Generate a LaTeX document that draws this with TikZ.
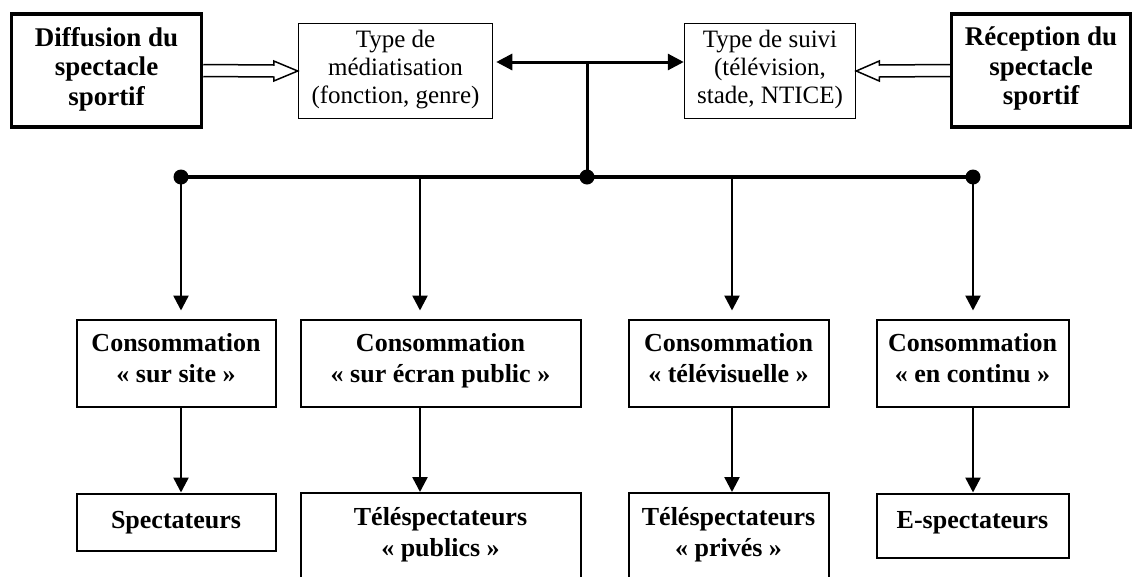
\documentclass[tikz,border=0pt]{standalone}
\usepackage{fontspec}
\setmainfont{Liberation Serif}
\usetikzlibrary{arrows.meta,calc}
\tikzset{
  boxbase/.style={draw, align=center, inner sep=0pt},
  struts/.style={execute at begin node=\strut, execute at end node=\strut},
  bigbox/.style={boxbase, line width=3.5pt,
    execute at begin node={\rule{0pt}{28.85pt}}, execute at end node=\strut,
    font=\fontsize{27}{29.5}\selectfont\bfseries},
  typebox/.style={boxbase, line width=1.5pt,
    execute at begin node={\rule{0pt}{22.4pt}}, execute at end node=\strut,
    font=\fontsize{25}{28}\selectfont},
  consfont/.style={boxbase, line width=2pt,
    font=\fontsize{26}{31}\selectfont\bfseries},
  consbox/.style={consfont, struts},
  arr/.style={line width=2.5pt, -{Triangle[length=15pt,width=15pt]}},
  dblarr/.style={line width=3pt, {Triangle[length=16pt,width=16pt]}-{Triangle[length=16pt,width=16pt]}},
  thickline/.style={line width=3pt},
  busline/.style={line width=3.5pt},
  hollow/.style={line width=1.5pt, fill=white, line join=miter},
}
\begin{document}
\begin{tikzpicture}[x=1pt,y=-1pt]
\useasboundingbox (0,0) rectangle (1134,576);
\clip (0,0) rectangle (1134,576);
\fill[white] (0,0) rectangle (1134,576);

% top row
\node[bigbox, minimum width=190pt, minimum height=113pt] (diff) at (106.5,70.5)
  {Diffusion du\\spectacle\\sportif};
\node[typebox, minimum width=194pt, minimum height=95pt] (med) at (395.5,71)
  {Type de\\médiatisation\\(fonction, genre)};
\node[typebox, minimum width=171pt, minimum height=95pt] (suivi) at (770,71)
  {Type de suivi\\(télévision,\\stade, NTICE)};
\node[bigbox, minimum width=179pt, minimum height=113pt] (recep) at (1041,70.5)
  {Réception du\\spectacle\\sportif};

% hollow arrows
\draw[hollow] ($(diff.east)+(0,-6)$) -- ($(med.west)+(-24,-6)$) -- ($(med.west)+(-24,-10)$)
  -- (med.west) -- ($(med.west)+(-24,10)$) -- ($(med.west)+(-24,6)$) -- ($(diff.east)+(0,6)$);
\draw[hollow] ($(recep.west)+(0,-6)$) -- ($(suivi.east)+(23,-6)$) -- ($(suivi.east)+(23,-10)$)
  -- (suivi.east) -- ($(suivi.east)+(23,10)$) -- ($(suivi.east)+(23,6)$) -- ($(recep.west)+(0,6)$);

% double arrow and trunk
\coordinate (top) at (587,62);
\coordinate (hub) at (587,177);
\draw[dblarr, shorten <=3pt] (med.east |- top) -- (suivi.west |- top);
\draw[thickline] (top) -- (hub);

% bus
\coordinate (b1) at (181,177);
\coordinate (b2) at (420,177);
\coordinate (b3) at (732,177);
\coordinate (b4) at (973,177);
\draw[busline] (b1) -- (b4);
\fill (b1) circle (7.5);
\fill (hub) circle (7.5);
\fill (b4) circle (7.5);

% consumption boxes
\node[consbox, minimum width=199pt, minimum height=87pt] (c1) at (176,363)
  {Consommation\\«~sur site~»};
\node[consbox, minimum width=280pt, minimum height=87pt] (c2) at (440.5,363)
  {Consommation\\«~sur écran public~»};
\node[consbox, minimum width=200pt, minimum height=87pt] (c3) at (728.5,363)
  {Consommation\\«~télévisuelle~»};
\node[consbox, minimum width=192pt, minimum height=87pt] (c4) at (972.5,363)
  {Consommation\\«~en continu~»};

% audience boxes
\node[consbox, minimum width=199pt, minimum height=57pt] (s1) at (176,522)
  {Spectateurs};
\node[consbox, minimum width=280pt, minimum height=88pt] (s2) at (440.5,537)
  {Téléspectateurs\\«~publics~»};
\node[consbox, minimum width=200pt, minimum height=88pt] (s3) at (728.5,537)
  {Téléspectateurs\\«~privés~»};
\node[consfont, execute at end node={\rule[-12pt]{0pt}{0pt}},
  minimum width=192pt, minimum height=64pt] (s4) at (972.5,525.5)
  {E-spectateurs};

% arrows down
\foreach \b/\c/\s in {b1/c1/s1, b2/c2/s2, b3/c3/s3, b4/c4/s4}{
  \draw[arr, shorten >=8pt] (\b) -- (\b |- \c.north);
  \draw[arr] (\b |- \c.south) -- (\b |- \s.north);
}
\end{tikzpicture}
\end{document}
